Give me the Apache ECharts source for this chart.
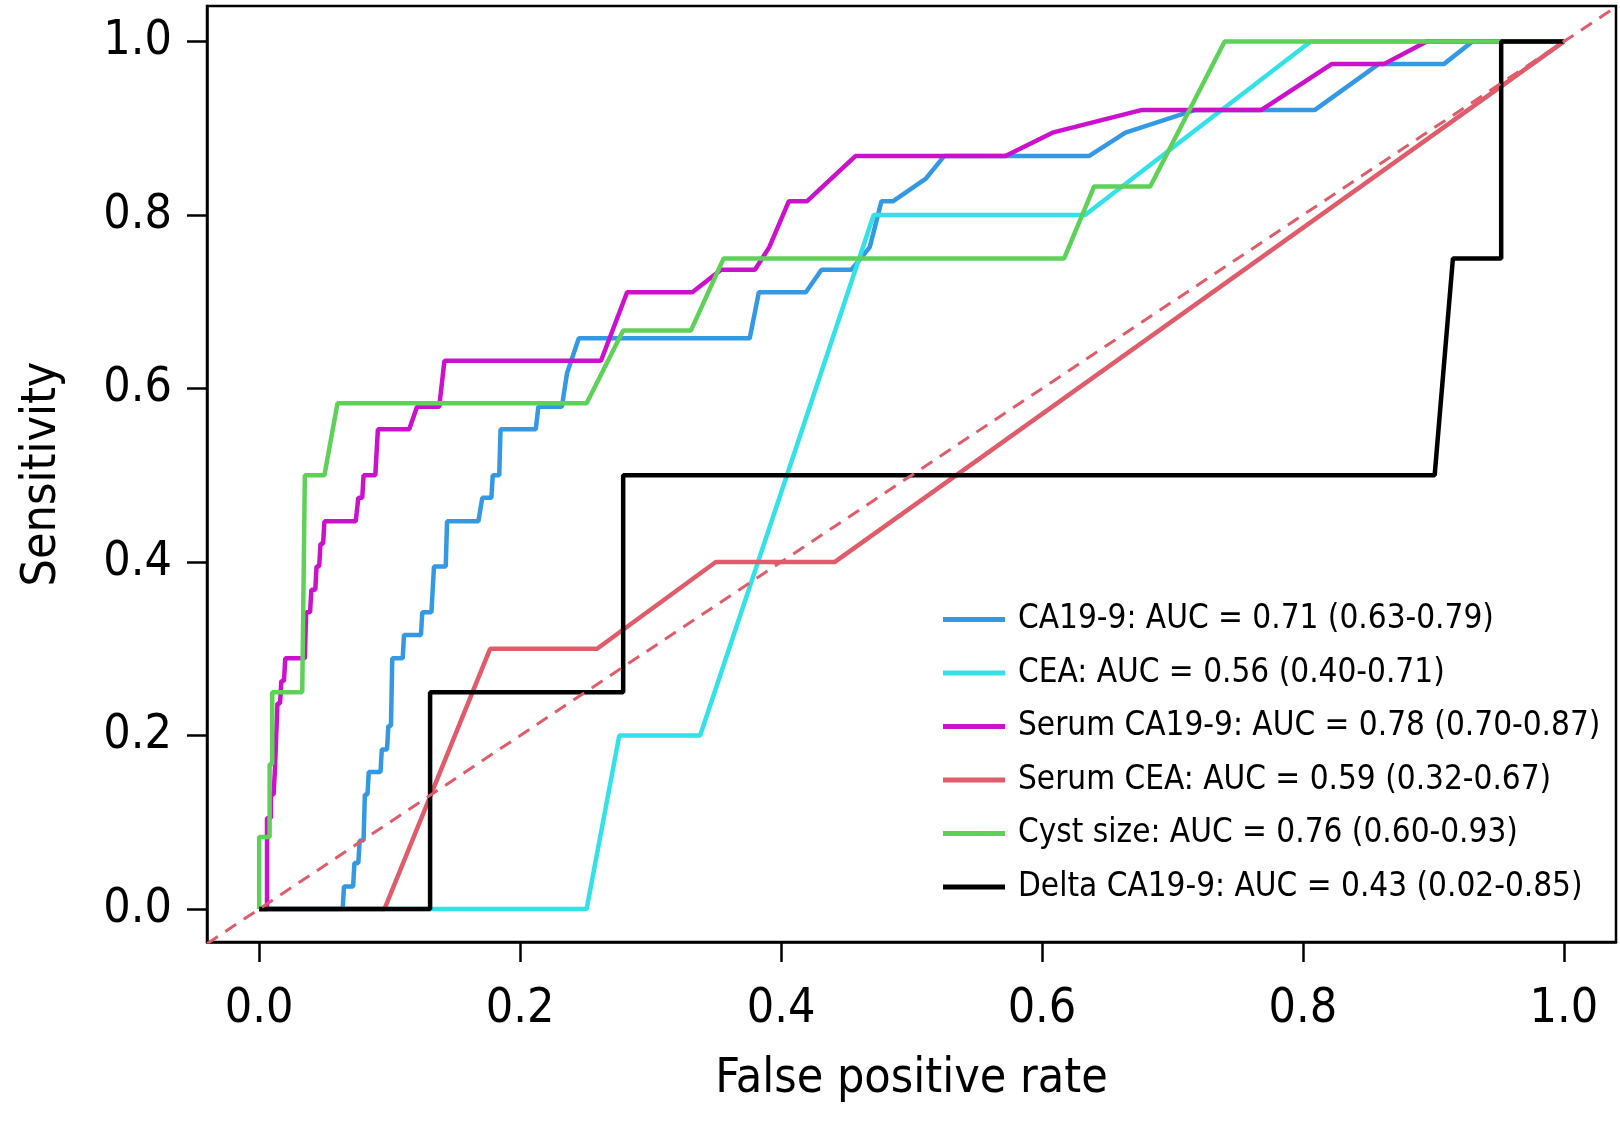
<!DOCTYPE html>
<html>
<head>
<meta charset="utf-8">
<script src="https://cdn.jsdelivr.net/npm/echarts@6/dist/echarts.min.js"></script>
<style>
html,body{margin:0;padding:0;background:#fff;}
#chart{width:1620px;height:1125px;}
</style>
</head>
<body>
<div id="chart"></div>
<script>
// ROC curves, values
var seriesNames = [
  'CA19-9: AUC = 0.71 (0.63-0.79)',
  'CEA: AUC = 0.56 (0.40-0.71)',
  'Serum CA19-9: AUC = 0.78 (0.70-0.87)',
  'Serum CEA: AUC = 0.59 (0.32-0.67)',
  'Cyst size: AUC = 0.76 (0.60-0.93)',
  'Delta CA19-9: AUC = 0.43 (0.02-0.85)'
];
var seriesColors = ['#3399e5', '#33e1e8', '#cc11cc', '#e05c6a', '#5ed158', '#000000'];

var ca199Fpr = [0,0.064,0.065,0.072,0.073,0.076,0.077,0.080,0.081,0.083,0.084,0.093,0.094,0.098,0.099,0.101,0.102,0.110,0.111,0.124,0.125,0.132,0.134,0.143,0.144,0.168,0.171,0.178,0.179,0.184,0.185,0.212,0.214,0.232,0.236,0.245,0.376,0.383,0.419,0.431,0.454,0.468,0.477,0.486,0.511,0.525,0.636,0.664,0.717,0.809,0.858,0.908,0.930,1];
var ca199Tpr = [0,0,0.026,0.026,0.053,0.053,0.079,0.079,0.132,0.132,0.158,0.158,0.184,0.184,0.211,0.211,0.289,0.289,0.316,0.316,0.342,0.342,0.395,0.395,0.447,0.447,0.474,0.474,0.500,0.500,0.553,0.553,0.579,0.579,0.618,0.658,0.658,0.711,0.711,0.737,0.737,0.763,0.816,0.816,0.842,0.868,0.868,0.895,0.921,0.921,0.974,0.974,1,1];

var ceaFpr = [0,0.251,0.276,0.338,0.471,0.633,0.806,1];
var ceaTpr = [0,0,0.2,0.2,0.8,0.8,1,1];

var serumCa199Fpr = [0,0.006,0.006,0.009,0.009,0.011,0.012,0.013,0.014,0.016,0.017,0.019,0.020,0.035,0.036,0.039,0.040,0.043,0.044,0.046,0.047,0.049,0.050,0.074,0.076,0.079,0.080,0.089,0.091,0.115,0.121,0.138,0.142,0.262,0.282,0.332,0.354,0.380,0.391,0.406,0.420,0.457,0.572,0.608,0.676,0.768,0.822,0.862,0.895,1];
var serumCa199Tpr = [0,0,0.105,0.105,0.132,0.132,0.158,0.158,0.237,0.237,0.263,0.263,0.289,0.289,0.342,0.342,0.368,0.368,0.395,0.395,0.421,0.421,0.447,0.447,0.474,0.474,0.500,0.500,0.553,0.553,0.579,0.579,0.632,0.632,0.711,0.711,0.737,0.737,0.763,0.816,0.816,0.868,0.868,0.895,0.921,0.921,0.974,0.974,1,1];

var serumCeaFpr = [0,0.096,0.177,0.259,0.350,0.441,1];
var serumCeaTpr = [0,0,0.3,0.3,0.4,0.4,1];

var cystFpr = [0,0,0.008,0.008,0.010,0.010,0.033,0.035,0.050,0.060,0.251,0.279,0.331,0.356,0.617,0.640,0.683,0.740,1];
var cystTpr = [0,0.083,0.083,0.167,0.167,0.25,0.25,0.5,0.5,0.583,0.583,0.667,0.667,0.75,0.75,0.833,0.833,1,1];

var deltaFpr = [0,0.131,0.131,0.279,0.279,0.901,0.915,0.952,0.952,1];
var deltaTpr = [0,0,0.25,0.25,0.5,0.5,0.75,0.75,1,1];

var refX = [-0.04, 1.04];
var refY = [-0.04, 1.04];

var tickValues = [0, 0.2, 0.4, 0.6, 0.8, 1.0];

var FONT = '"DejaVu Sans Condensed", "Liberation Sans", sans-serif';

function zip(xs, ys){
  return xs.map(function(x, i){ return [x, ys[i]]; });
}

var curves = [
  zip(ca199Fpr, ca199Tpr),
  zip(ceaFpr, ceaTpr),
  zip(serumCa199Fpr, serumCa199Tpr),
  zip(serumCeaFpr, serumCeaTpr),
  zip(cystFpr, cystTpr),
  zip(deltaFpr, deltaTpr)
];

var series = curves.map(function(d, i){
  return {
    name: seriesNames[i],
    type: 'line',
    data: d,
    symbol: 'none',
    color: seriesColors[i],
    lineStyle: {color: seriesColors[i], width: 4.5},
    z: 2 + i
  };
});
series.push({
  name: 'ref',
  type: 'line',
  data: zip(refX, refY),
  symbol: 'none',
  lineStyle: {color: '#e05c6a', width: 3, type: [13, 9]},
  z: 10
});

function axisCommon(){
  return {
    type: 'value',
    axisLine: {show: true, onZero: false, lineStyle: {color: '#000', width: 2.5}},
    axisTick: {show: true, inside: false, length: 20, customValues: tickValues,
      lineStyle: {color: '#000', width: 2.5}},
    splitLine: {show: false},
    axisLabel: {customValues: tickValues, color: '#000', fontSize: 48, fontFamily: FONT,
      formatter: function(v){ return v.toFixed(1); }},
    nameTextStyle: {color: '#000', fontSize: 48, fontFamily: FONT}
  };
}

var xAxis = axisCommon();
xAxis.min = -0.04;
xAxis.max = 1.04;
xAxis.name = 'False positive rate';
xAxis.nameLocation = 'middle';
xAxis.nameGap = 114;
xAxis.axisLabel.margin = 44;

var yAxis = axisCommon();
yAxis.min = -0.038;
yAxis.max = 1.041;
yAxis.name = 'Sensitivity';
yAxis.nameLocation = 'middle';
yAxis.nameGap = 140;
yAxis.axisLabel.margin = 35;

var chart = echarts.init(document.getElementById('chart'));
chart.setOption({
  animation: false,
  backgroundColor: '#fff',
  grid: {left: 207, right: 4, top: 6, bottom: 183, show: true,
    borderColor: '#000', borderWidth: 2.5, backgroundColor: 'transparent'},
  xAxis: xAxis,
  yAxis: yAxis,
  legend: {
    orient: 'vertical',
    left: 938,
    top: 598,
    icon: 'rect',
    itemWidth: 62,
    itemHeight: 5,
    itemGap: 20.5,
    data: seriesNames,
    textStyle: {color: '#000', fontSize: 33, lineHeight: 30, fontFamily: FONT, padding: [0, 0, 0, 8]}
  },
  series: series
});
</script>
</body>
</html>
